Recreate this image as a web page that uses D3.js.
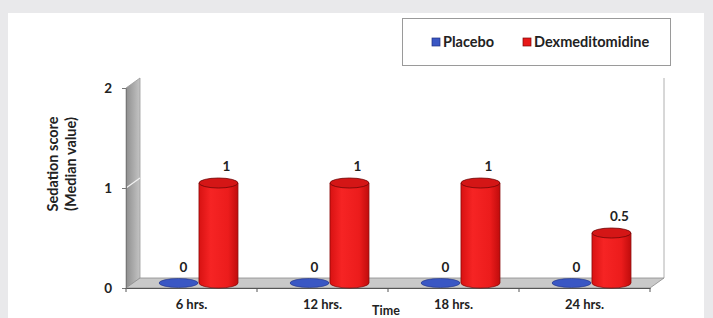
<!DOCTYPE html>
<html>
<head>
<meta charset="utf-8">
<style>
body { margin: 0; background: #e9e9eb; }
text { font-family: Lato, "Open Sans", sans-serif; font-weight: 700; fill: #222; }
</style>
</head>
<body>
<script src="https://cdn.jsdelivr.net/npm/d3@7"></script>
<script>

var categories = ["6 hrs.", "12 hrs.", "18 hrs.", "24 hrs."];
var placebo = [0, 0, 0, 0];
var dexmed = [1, 1, 1, 0.5];
var seriesNames = ["Placebo", "Dexmeditomidine"];
var yTicks = [0, 1, 2];

var width = 713, height = 318;
var depth = {dx: 14, dy: -10};

var svg = d3.select("body").append("svg")
    .attr("width", width)
    .attr("height", height);

// white panel
svg.append("rect").attr("x", 8).attr("y", 13).attr("width", 696).attr("height", 320).attr("fill", "#fff");

var defs = svg.append("defs");
var g1 = defs.append("linearGradient").attr("id", "redbody");
g1.append("stop").attr("offset", "0%").attr("stop-color", "#d81212");
g1.append("stop").attr("offset", "30%").attr("stop-color", "#f62424");
g1.append("stop").attr("offset", "75%").attr("stop-color", "#ec1c1c");
g1.append("stop").attr("offset", "100%").attr("stop-color", "#c00c0c");
var g2 = defs.append("linearGradient").attr("id", "wall");
g2.append("stop").attr("offset", "0%").attr("stop-color", "#8e8e8e");
g2.append("stop").attr("offset", "100%").attr("stop-color", "#c4c4c4");

var x = d3.scaleBand().domain(categories).range([126, 650]);
var xs = d3.scaleBand().domain(seriesNames).range([0, x.bandwidth()]).paddingOuter(0.64);
var y = d3.scaleLinear().domain([0, 2]).range([288, 88]);

var x0 = x.range()[0], x1 = x.range()[1], y0 = y(0), yTop = y(2);

// left wall
svg.append("path")
    .attr("d", "M" + x0 + "," + yTop + "L" + (x0 + depth.dx) + "," + (yTop + depth.dy) +
      "L" + (x0 + depth.dx) + "," + (y0 + depth.dy) + "L" + x0 + "," + y0 + "Z")
    .attr("fill", "url(#wall)").attr("stroke", "#9a9a9a").attr("stroke-width", 0.8);

// grid line on wall
svg.append("line")
    .attr("x1", x0).attr("y1", y(1)).attr("x2", x0 + depth.dx).attr("y2", y(1) + depth.dy)
    .attr("stroke", "#f2f2f2").attr("stroke-width", 1.2);

// back right edge
svg.append("line")
    .attr("x1", x1 + depth.dx).attr("y1", yTop + depth.dy).attr("x2", x1 + depth.dx).attr("y2", y0 + depth.dy)
    .attr("stroke", "#b0b0b0").attr("stroke-width", 1);

// floor
svg.append("path")
    .attr("d", "M" + x0 + "," + y0 + "L" + x1 + "," + y0 + "L" + (x1 + depth.dx) + "," + (y0 + depth.dy) +
      "L" + (x0 + depth.dx) + "," + (y0 + depth.dy) + "Z")
    .attr("fill", "#c9c9c9").attr("stroke", "#8c8c8c").attr("stroke-width", 0.8);

// y axis
var yAxis = svg.append("g")
    .attr("transform", "translate(" + x0 + ",0)")
    .call(d3.axisLeft(y).tickValues(yTicks).tickFormat(d3.format("d")).tickSizeInner(4).tickSizeOuter(0).tickPadding(10));
yAxis.select(".domain").attr("stroke", "#777");
yAxis.selectAll(".tick line").attr("stroke", "#777");
yAxis.selectAll("text").attr("font-size", 13.5).attr("font-family", "Lato").attr("font-weight", 700).attr("fill", "#222");

// x axis
var xAxis = svg.append("g")
    .attr("transform", "translate(0," + y0 + ")")
    .call(d3.axisBottom(x).tickSize(0).tickPadding(12));
xAxis.select(".domain").attr("stroke", "#555");
xAxis.selectAll("text").attr("font-size", 13).attr("font-family", "Lato").attr("font-weight", 700).attr("fill", "#222");
svg.append("g").selectAll("line")
    .data(categories.map(function(c) { return x(c); }).concat([x1]))
    .enter().append("line")
    .attr("x1", d => d).attr("x2", d => d).attr("y1", y0).attr("y2", y0 + 4)
    .attr("stroke", "#555");

// bars
var rx = 19.5, ry = 5;
categories.forEach(function(c, i) {
  var cx0 = x(c) + xs("Placebo") + xs.bandwidth() / 2 + depth.dx / 2;
  var cx1 = x(c) + xs("Dexmeditomidine") + xs.bandwidth() / 2 + depth.dx / 2;
  var base = y(0) + depth.dy / 2;

  // placebo disk
  var top0 = y(placebo[i]) + depth.dy / 2;
  svg.append("ellipse")
    .attr("cx", cx0).attr("cy", top0).attr("rx", rx).attr("ry", ry - 0.5)
    .attr("fill", "#3a57c4").attr("stroke", "#1e2f80").attr("stroke-width", 0.6);
  svg.append("text")
    .attr("x", cx0 + 5).attr("y", top0 - 11)
    .attr("text-anchor", "middle").attr("font-size", 13.5)
    .text(placebo[i]);

  // dexmed cylinder
  var top1 = y(dexmed[i]) + depth.dy / 2;
  svg.append("path")
    .attr("d", "M" + (cx1 - rx) + "," + top1 + "L" + (cx1 - rx) + "," + base +
      "A" + rx + "," + ry + " 0 0,0 " + (cx1 + rx) + "," + base +
      "L" + (cx1 + rx) + "," + top1 + "Z")
    .attr("fill", "url(#redbody)").attr("stroke", "#8a0a0a").attr("stroke-width", 0.8);
  svg.append("ellipse")
    .attr("cx", cx1).attr("cy", top1).attr("rx", rx).attr("ry", ry)
    .attr("fill", "#d41616").attr("stroke", "#6e0606").attr("stroke-width", 0.8);
  svg.append("text")
    .attr("x", cx1 + 8).attr("y", top1 - 12)
    .attr("text-anchor", "middle").attr("font-size", 13.5)
    .text(dexmed[i]);
});

// axis titles
var yt = svg.append("text")
    .attr("transform", "translate(58,164) rotate(-90)")
    .attr("text-anchor", "middle").attr("font-size", 14.5).attr("fill", "#333");
yt.append("tspan").attr("x", 0).attr("y", 0).text("Sedation score");
yt.append("tspan").attr("x", 0).attr("y", 18).text("(Median value)");

svg.append("text")
    .attr("x", 386).attr("y", 315)
    .attr("text-anchor", "middle").attr("font-size", 12.5)
    .text("Time");

// legend
var legend = svg.append("g");
legend.append("rect")
    .attr("x", 402.5).attr("y", 18.5).attr("width", 268).attr("height", 47)
    .attr("fill", "#fff").attr("stroke", "#9a9a9a");
var legendX = [432, 523], legendColors = ["#3a57c4", "#e81818"], legendEdge = ["#1e2f80", "#7a0606"];
seriesNames.forEach(function(s, i) {
  legend.append("rect")
    .attr("x", legendX[i]).attr("y", 38).attr("width", 8).attr("height", 8)
    .attr("fill", legendColors[i]).attr("stroke", legendEdge[i]).attr("stroke-width", 0.7);
  legend.append("text")
    .attr("x", legendX[i] + 11).attr("y", 47)
    .attr("font-size", 14.5)
    .text(s);
});

</script>
</body>
</html>
